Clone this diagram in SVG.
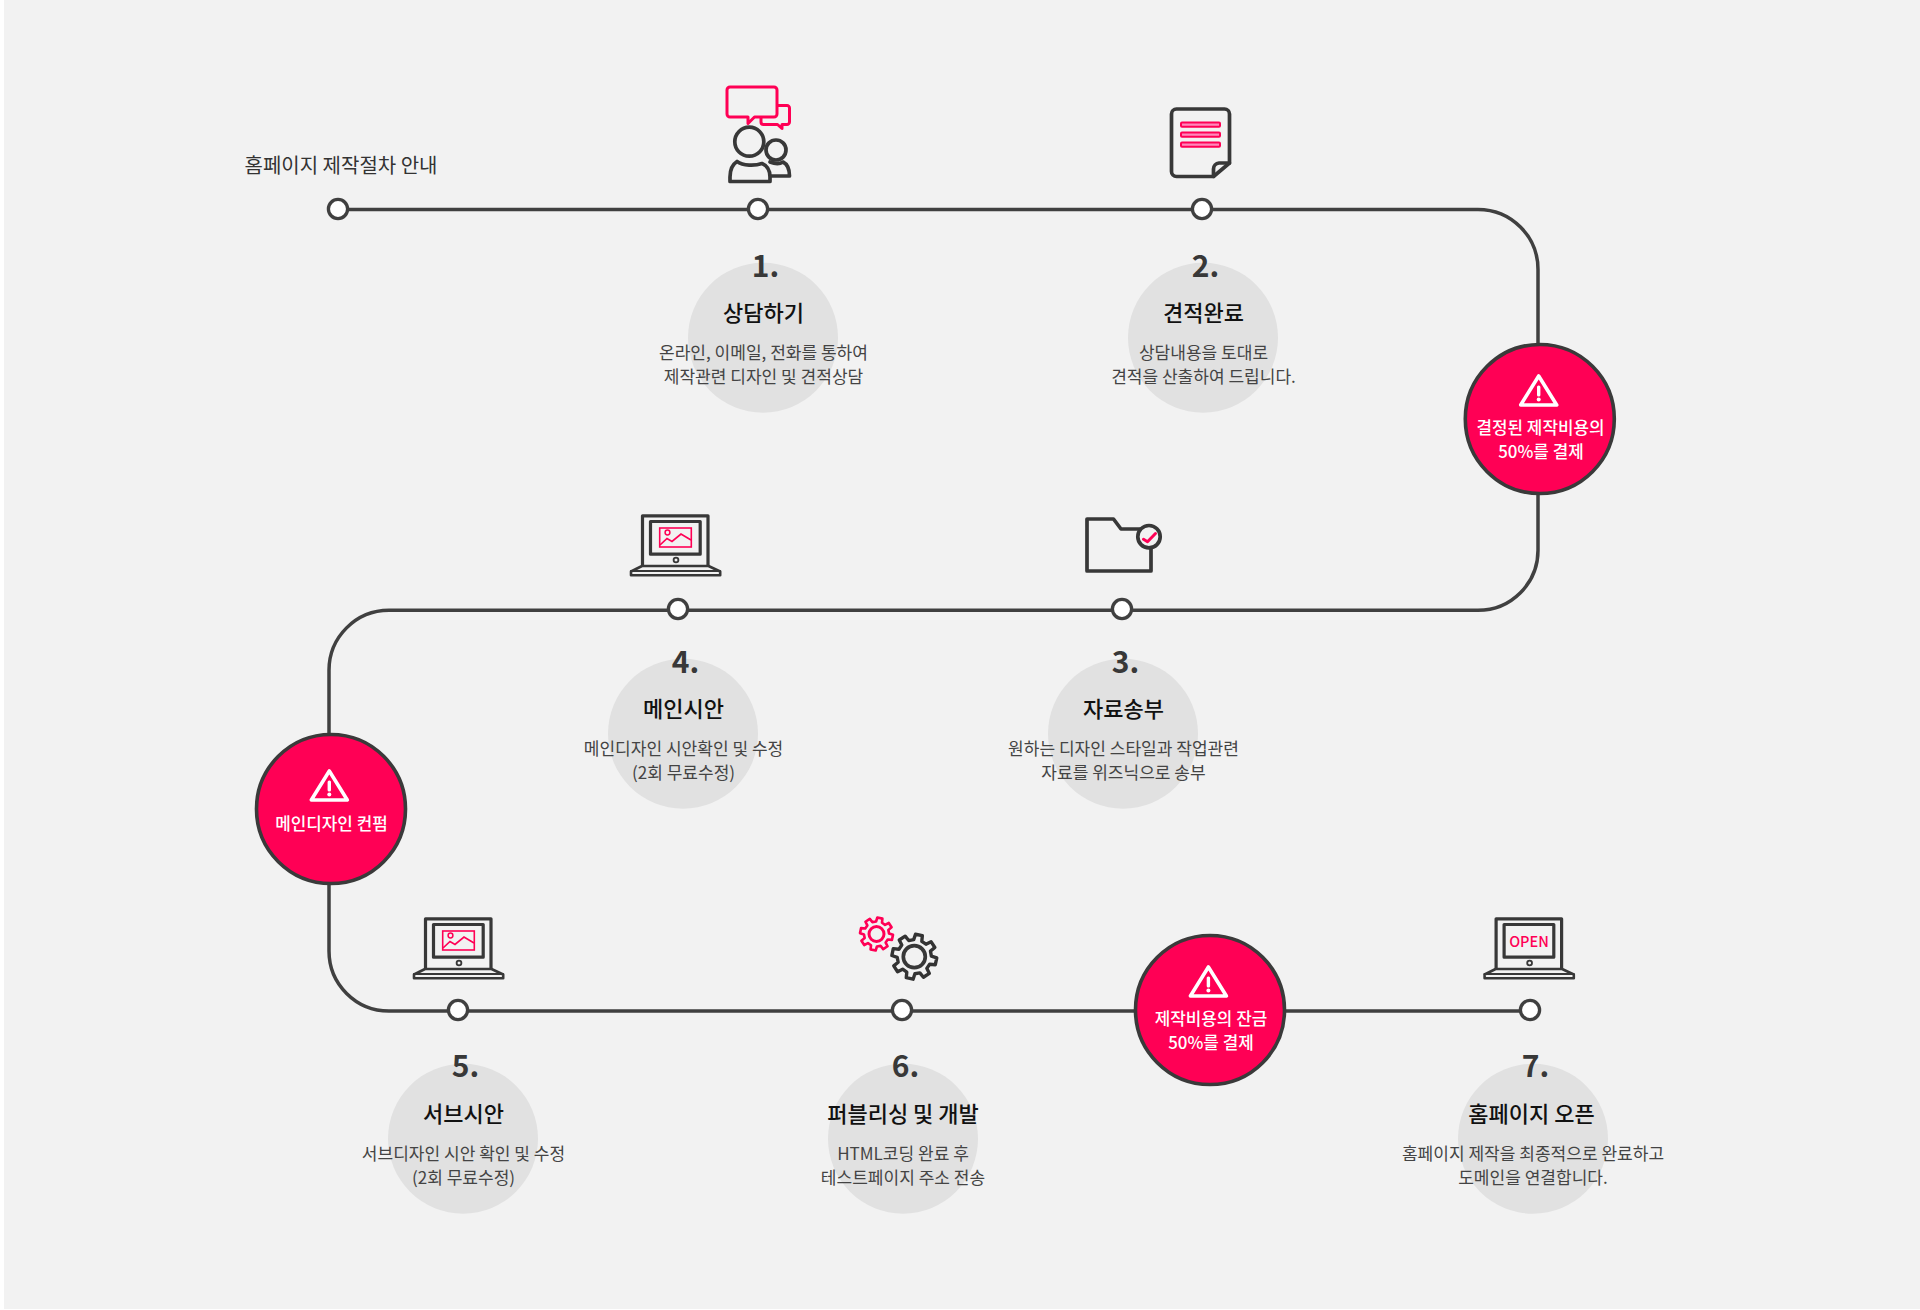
<svg xmlns="http://www.w3.org/2000/svg" xmlns:xlink="http://www.w3.org/1999/xlink" width="1920" height="1310" viewBox="0 0 1920 1310">
<style>
text{font-family:"Noto Sans CJK KR","Noto Sans",sans-serif;text-anchor:middle}
.top{font-size:20px;fill:#333}
.num{font-size:30px;font-weight:700;fill:#383838}
.ttl{font-size:22px;font-weight:500;fill:#111}
.dsc{font-size:17.05px;fill:#444}
.wt{font-size:16.9px;font-weight:500;fill:#fff}
.bub{fill:#e1e1e1}
.nd{fill:#fff;stroke:#404040;stroke-width:3.3}
.wc{fill:#ff0055;stroke:#3a3a3a;stroke-width:3.6}
.k{fill:none;stroke:#383838;stroke-width:3.7;stroke-linejoin:round;stroke-linecap:round}
.p{fill:none;stroke:#ff0055;stroke-width:3;stroke-linejoin:round;stroke-linecap:round}
.tri{fill:none;stroke:#fff;stroke-width:3.6;stroke-linejoin:round}
.ex{fill:#fff}
</style>
<defs>
<g id="laptop">
<path class="k" d="M642.5 565V515.8H708V565" style="stroke-width:3.2"/>
<rect class="k" x="650.5" y="521.5" width="49.7" height="32.7" style="stroke-width:3.2"/>
<circle class="k" cx="676" cy="560" r="2.4" style="stroke-width:1.8"/>
<path class="k" d="M642 566H708.5L720.2 571.5V575.2H631V571.5Z" style="stroke-width:2.6"/>
<path class="k" d="M631 571H720" style="stroke-width:2.2"/>
</g>
<g id="picture">
<rect x="659.7" y="528" width="31.6" height="19" fill="none" stroke="#ff0055" stroke-width="1.6"/>
<circle cx="667.5" cy="532.5" r="2.4" fill="none" stroke="#ff0055" stroke-width="1.5"/>
<path d="M660 545L667 538.5L672 541.5L681 534L691 540" fill="none" stroke="#ff0055" stroke-width="1.7"/>
</g>
<path id="gear" d="M73.7 -18.4L98.8 -15.6L98.8 15.6L73.7 18.4L65.1 39.1L80.9 58.8L58.8 80.9L39.1 65.1L18.4 73.7L15.6 98.8L-15.6 98.8L-18.4 73.7L-39.1 65.1L-58.8 80.9L-80.9 58.8L-65.1 39.1L-73.7 18.4L-98.8 15.6L-98.8 -15.6L-73.7 -18.4L-65.1 -39.1L-80.9 -58.8L-58.8 -80.9L-39.1 -65.1L-18.4 -73.7L-15.6 -98.8L15.6 -98.8L18.4 -73.7L39.1 -65.1L58.8 -80.9L80.9 -58.8L65.1 -39.1Z"/>
<g id="tri1">
<path class="tri" d="M0 -42.5L18 -13.5H-18Z"/>
<rect class="ex" x="-1.7" y="-33" width="3.4" height="11" rx="1.5"/>
<circle class="ex" cx="0" cy="-19" r="2"/>
</g>
</defs>
<rect x="4" y="0" width="1916" height="1309" fill="#f2f2f2"/>

<g id="connectors">
<path d="M338 209.4H1478A60 60 0 0 1 1538 269.4V550.3A60 60 0 0 1 1478 610.3H389A60 60 0 0 0 329 670.3V951A60 60 0 0 0 389 1011H1530" fill="none" stroke="#404040" stroke-width="3.5"/>
</g>

<g id="start">
<circle class="nd" cx="338" cy="209" r="9.6"/>
<text class="top" x="341" y="172.5">홈페이지 제작절차 안내</text>
</g>

<g id="step-1">
<circle class="bub" cx="763" cy="337.7" r="75"/>
<circle class="nd" cx="758" cy="209" r="9.6"/>
<path class="p" d="M730 87H774A3 3 0 0 1 777 90V114A3 3 0 0 1 774 117H754.5L748 123.5V117H730A3 3 0 0 1 727 114V90A3 3 0 0 1 730 87Z"/>
<path class="p" d="M777.5 105.5H787A2.5 2.5 0 0 1 789.5 108V122A2.5 2.5 0 0 1 787 124.5H782V128.5L777.5 124.5H763.5A2.5 2.5 0 0 1 761 122V117.5"/>
<circle class="k" cx="749.3" cy="141.7" r="14.5"/>
<path class="k" d="M730 181.5H770V177C770 170 768 166 762 163.5C755 166 743 166 737 161.5C731.5 165 730 170 730 177Z"/>
<circle class="k" cx="776" cy="150" r="10"/>
<path class="k" d="M770 162C775 164 780 164 783 162C787 164 789.5 169 789.5 176H771"/>
<text class="num" x="765.5" y="277">1.</text>
<text class="ttl" x="763.5" y="320.5">상담하기</text>
<text class="dsc" x="763.5" y="358.5">온라인, 이메일, 전화를 통하여</text>
<text class="dsc" x="763.5" y="382.5">제작관련 디자인 및 견적상담</text>
</g>

<g id="step-2">
<circle class="bub" cx="1203" cy="337.7" r="75"/>
<circle class="nd" cx="1202" cy="209" r="9.6"/>
<path class="k" d="M1176.5 109H1224.5A5 5 0 0 1 1229.5 114V163L1213.5 176.5H1176.5A5 5 0 0 1 1171.5 171.5V114A5 5 0 0 1 1176.5 109Z"/>
<path class="k" d="M1229.5 163H1219A6 6 0 0 0 1213.5 169V176.5"/>
<rect x="1181" y="122.5" width="39" height="4.2" rx="1" fill="#f8b" stroke="#ff0055" stroke-width="2"/>
<rect x="1181" y="132.5" width="39" height="4.2" rx="1" fill="#f8b" stroke="#ff0055" stroke-width="2"/>
<rect x="1181" y="142.5" width="39" height="4.2" rx="1" fill="#f8b" stroke="#ff0055" stroke-width="2"/>
<text class="num" x="1205.5" y="277">2.</text>
<text class="ttl" x="1203.5" y="320.5">견적완료</text>
<text class="dsc" x="1203.5" y="358.5">상담내용을 토대로</text>
<text class="dsc" x="1203.5" y="382.5">견적을 산출하여 드립니다.</text>
</g>

<g id="payment-1">
<circle class="wc" cx="1539.8" cy="419" r="74.5"/>
<use href="#tri1" x="1538.7" y="418.5"/>
<text class="wt" x="1540.5" y="434">결정된 제작비용의</text>
<text class="wt" x="1541" y="458">50%를 결제</text>
</g>

<g id="step-3">
<circle class="bub" cx="1123" cy="733.7" r="75"/>
<circle class="nd" cx="1122" cy="609" r="9.6"/>
<path class="k" d="M1140 529H1121L1113.5 519H1087V571H1151V548"/>
<circle class="k" cx="1149" cy="536.7" r="11.2"/>
<path class="p" d="M1143.5 539.3L1147.5 541.7L1155.5 533.5"/>
<text class="num" x="1125.5" y="672.5">3.</text>
<text class="ttl" x="1123.5" y="716.5">자료송부</text>
<text class="dsc" x="1123.5" y="754.5">원하는 디자인 스타일과 작업관련</text>
<text class="dsc" x="1123.5" y="778.5">자료를 위즈닉으로 송부</text>
</g>

<g id="step-4">
<circle class="bub" cx="683" cy="733.7" r="75"/>
<circle class="nd" cx="678" cy="609" r="9.6"/>
<use href="#laptop"/>
<use href="#picture"/>
<text class="num" x="685.5" y="672.5">4.</text>
<text class="ttl" x="683.5" y="716.5">메인시안</text>
<text class="dsc" x="683.5" y="754.5">메인디자인 시안확인 및 수정</text>
<text class="dsc" x="683.5" y="778.5">(2회 무료수정)</text>
</g>

<g id="review">
<circle class="wc" cx="331" cy="809" r="74.5"/>
<use href="#tri1" x="329.3" y="813.5"/>
<text class="wt" x="331.5" y="830">메인디자인 컨펌</text>
</g>

<g id="step-5">
<circle class="bub" cx="463" cy="1138.7" r="75"/>
<circle class="nd" cx="458" cy="1010" r="9.6"/>
<use href="#laptop" x="-217" y="403"/>
<use href="#picture" x="-217" y="403"/>
<text class="num" x="465.5" y="1077">5.</text>
<text class="ttl" x="463.5" y="1121.8">서브시안</text>
<text class="dsc" x="463.5" y="1159.5">서브디자인 시안 확인 및 수정</text>
<text class="dsc" x="463.5" y="1183.5">(2회 무료수정)</text>
</g>

<g id="step-6">
<circle class="bub" cx="903" cy="1138.7" r="75"/>
<circle class="nd" cx="902" cy="1010" r="9.6"/>
<use href="#gear" transform="translate(876.5 934) rotate(12) scale(.165)" fill="none" stroke="#ff0055" stroke-width="16" stroke-linejoin="round"/>
<circle class="p" cx="876.5" cy="934" r="7.5"/>
<use href="#gear" transform="translate(914.3 956.7) rotate(12) scale(.225)" fill="none" stroke="#333" stroke-width="15" stroke-linejoin="round"/>
<circle class="k" cx="914.3" cy="956.7" r="11"/>
<text class="num" x="905.5" y="1077">6.</text>
<text class="ttl" x="903" y="1121.8">퍼블리싱 및 개발</text>
<text class="dsc" x="903" y="1159.5">HTML코딩 완료 후</text>
<text class="dsc" x="903" y="1183.5">테스트페이지 주소 전송</text>
</g>

<g id="payment-2">
<circle class="wc" cx="1210" cy="1010" r="74.5"/>
<use href="#tri1" x="1208.4" y="1009.5"/>
<text class="wt" x="1211" y="1025">제작비용의 잔금</text>
<text class="wt" x="1211" y="1049">50%를 결제</text>
</g>

<g id="step-7">
<circle class="bub" cx="1533" cy="1138.7" r="75"/>
<circle class="nd" cx="1530" cy="1010" r="9.6"/>
<use href="#laptop" x="853.6" y="403"/>
<text x="1529" y="946.5" font-size="14.5" font-weight="500" fill="#ff0055">OPEN</text>
<text class="num" x="1535.5" y="1077">7.</text>
<text class="ttl" x="1531.5" y="1121.8">홈페이지 오픈</text>
<text class="dsc" x="1533" y="1159.5">홈페이지 제작을 최종적으로 완료하고</text>
<text class="dsc" x="1533" y="1183.5">도메인을 연결합니다.</text>
</g>
</svg>
